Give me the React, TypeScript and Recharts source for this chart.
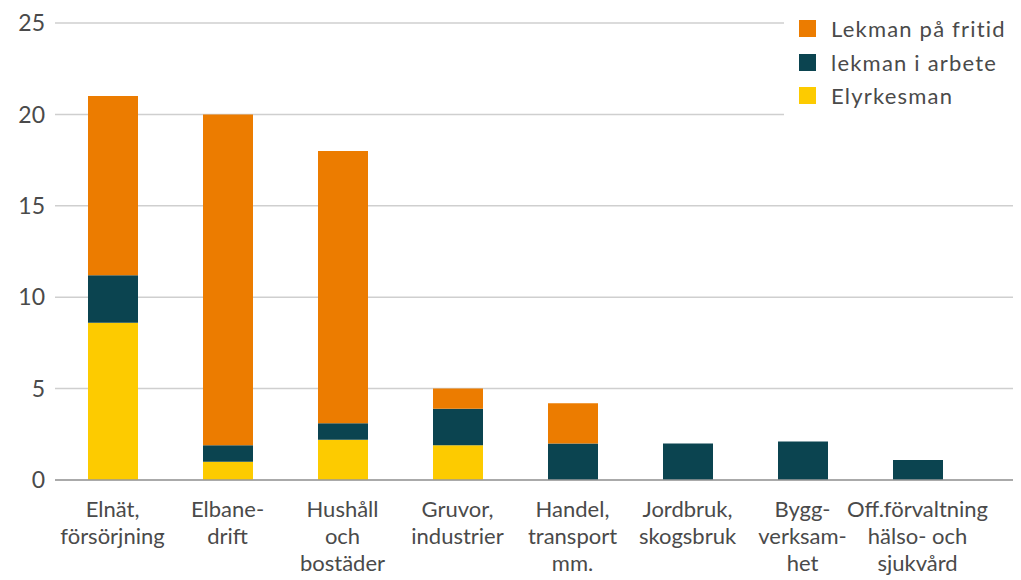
import { BarChart, Bar, XAxis, YAxis, CartesianGrid } from 'recharts';

// kategorier (radbrytning med \n)
const categories = [
  'Elnät,\nförsörjning',
  'Elbane-\ndrift',
  'Hushåll\noch\nbostäder',
  'Gruvor,\nindustrier',
  'Handel,\ntransport\nmm.',
  'Jordbruk,\nskogsbruk',
  'Bygg-\nverksam-\nhet',
  'Off.förvaltning\nhälso- och\nsjukvård',
];

const elyrkesman = [8.6, 1.0, 2.2, 1.9, 0, 0, 0, 0];
const lekmanArbete = [2.6, 0.9, 0.9, 2.0, 2.0, 2.0, 2.1, 1.1];
const lekmanFritid = [9.8, 18.1, 14.9, 1.1, 2.2, 0, 0, 0];

const yTicks = [0, 5, 10, 15, 20, 25];

const series = [
  { key: 'elyrkesman', name: 'Elyrkesman', color: '#FDCB00' },
  { key: 'arbete', name: 'lekman i arbete', color: '#0B4450' },
  { key: 'fritid', name: 'Lekman på fritid', color: '#EC7C00' },
];

const data = categories.map((c, i) => ({
  cat: c,
  elyrkesman: elyrkesman[i],
  arbete: lekmanArbete[i],
  fritid: lekmanFritid[i],
}));

const FONT = 'Lato, "Open Sans", sans-serif';
const TEXT = '#4a4a4a';

function CatTick(props: any) {
  const { x, y, payload } = props;
  const lines = String(payload.value).split('\n');
  return (
    <g transform={`translate(${x},${y})`}>
      {lines.map((l, i) => (
        <text key={i} x={0} y={29 + i * 27} textAnchor="middle" fill={TEXT} fontSize={22} fontFamily={FONT}>
          {l}
        </text>
      ))}
    </g>
  );
}

// legenden ligger ovanpå diagrammet, med vit bakgrund som i originalet
function LegendBox() {
  const items = [...series].reverse();
  return (
    <div
      style={{
        position: 'absolute',
        top: 0,
        left: 784,
        width: 237,
        height: 128,
        background: '#fff',
        padding: '12px 0 0 15px',
        boxSizing: 'border-box',
        fontFamily: FONT,
      }}
    >
      {items.map((s) => (
        <div key={s.key} style={{ display: 'flex', alignItems: 'center', height: 33.5 }}>
          <span style={{ width: 17, height: 17, background: s.color, display: 'inline-block', marginRight: 15 }} />
          <span style={{ fontSize: 22, color: TEXT, letterSpacing: 1.2 }}>{s.name}</span>
        </div>
      ))}
    </div>
  );
}

export default function App() {
  return (
    <div style={{ position: 'relative', width: 1021, height: 580, background: '#fff' }}>
      <style>{`body{margin:0}`}</style>
      <BarChart
        width={1021}
        height={580}
        data={data}
        margin={{ top: 23, right: 8, left: 0, bottom: 0 }}
        barSize={50}
      >
        <CartesianGrid vertical={false} stroke="#cfcfcf" strokeWidth={1.5} />
        <XAxis
          dataKey="cat"
          height={100}
          interval={0}
          tickLine={false}
          axisLine={{ stroke: '#9a9a9a', strokeWidth: 1.5 }}
          padding={{ left: 0, right: 38 }}
          tick={<CatTick />}
        />
        <YAxis
          width={55}
          domain={[0, 25]}
          ticks={yTicks}
          tickLine={false}
          axisLine={false}
          tickMargin={4}
          tick={{ fill: TEXT, fontSize: 23, fontFamily: FONT }}
        />
        {series.map((s) => (
          <Bar key={s.key} dataKey={s.key} name={s.name} stackId="a" fill={s.color} isAnimationActive={false} />
        ))}
      </BarChart>
      <LegendBox />
    </div>
  );
}
